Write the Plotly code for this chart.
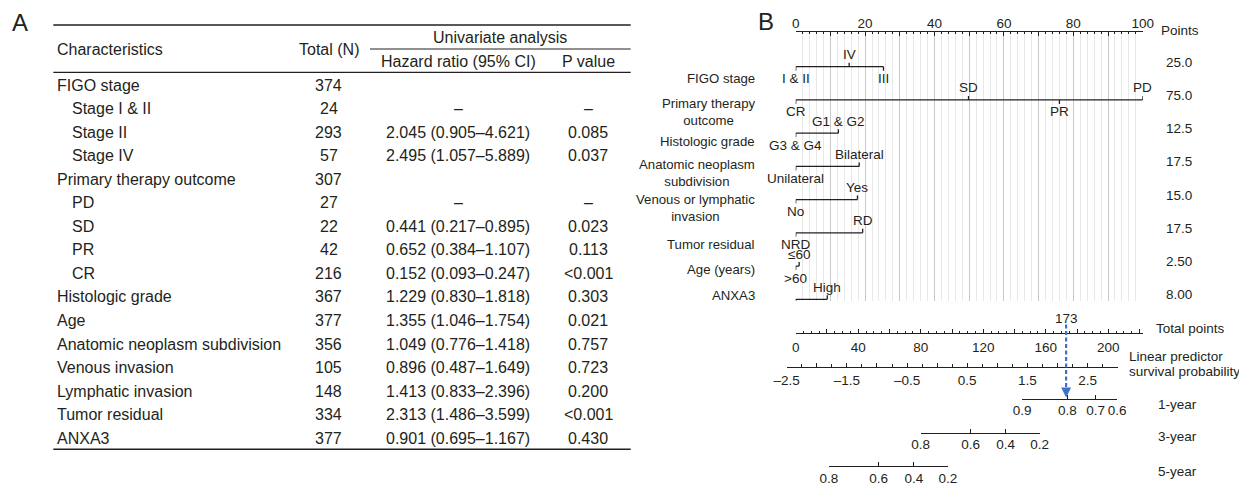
import math
import plotly.graph_objects as go

W, H = 1247, 486          # browser window
OFF = 8                   # default page body margin
WF, HF = W - OFF, H - OFF # figure size
FONT = "Liberation Sans, Arial, Helvetica, sans-serif"
INK = "#231f20"
BLUE = "#3d72c9"

# ---------------- Panel A data (table) ----------------
char_labels = ["FIGO stage", "Stage I & II", "Stage II", "Stage IV",
               "Primary therapy outcome", "PD", "SD", "PR", "CR",
               "Histologic grade", "Age", "Anatomic neoplasm subdivision",
               "Venous invasion", "Lymphatic invasion", "Tumor residual", "ANXA3"]
char_indent = [0, 1, 1, 1, 0, 1, 1, 1, 1, 0, 0, 0, 0, 0, 0, 0]
total_n = [374, 24, 293, 57, 307, 27, 22, 42, 216, 367, 377, 356, 105, 148, 334, 377]
hr_est = [None, "ref", 2.045, 2.495, None, "ref", 0.441, 0.652, 0.152, 1.229, 1.355, 1.049, 0.896, 1.413, 2.313, 0.901]
hr_low = [None, None, 0.905, 1.057, None, None, 0.217, 0.384, 0.093, 0.830, 1.046, 0.776, 0.487, 0.833, 1.486, 0.695]
hr_high = [None, None, 4.621, 5.889, None, None, 0.895, 1.107, 0.247, 1.818, 1.754, 1.418, 1.649, 2.396, 3.599, 1.167]
p_values = [None, "ref", "0.085", "0.037", None, "ref", "0.023", "0.113", "<0.001", "0.303", "0.021", "0.757", "0.723", "0.200", "<0.001", "0.430"]

# ---------------- Panel B data (nomogram) ----------------
nomo_vars = ["FIGO stage", "Primary therapy<br>outcome", "Histologic grade",
             "Anatomic neoplasm<br>subdivision", "Venous or lymphatic<br>invasion",
             "Tumor residual", "Age (years)", "ANXA3"]
nomo_levels = [["I & II", "IV", "III"], ["CR", "SD", "PR", "PD"], ["G3 & G4", "G1 & G2"],
               ["Unilateral", "Bilateral"], ["No", "Yes"], ["NRD", "RD"], [">60", "≤60"], ["Low", "High"]]
nomo_points = [[0, 15.4, 25.3], [0, 49.8, 76.0, 100], [0, 12.3], [0, 18.3], [0, 17.8], [0, 19.3], [0, 1.0], [0, 9.1]]
nomo_above = [[0, 1, 0], [0, 1, 0, 1], [0, 1], [0, 1], [0, 1], [0, 1], [0, 1], [0, 1]]
nomo_right = ["25.0", "75.0", "12.5", "17.5", "15.0", "17.5", "2.50", "8.00"]

points_range = [0, 100]
total_range = [0, 222]
lp_range = [-2.5, 3.0]
example_total = 173

surv_names = ["1-year", "3-year", "5-year"]
surv_ticks = [[0.9, 0.8, 0.7, 0.6], [0.8, 0.6, 0.4, 0.2], [0.8, 0.6, 0.4, 0.2]]
surv_baseline = [0.9747, 0.7459, 0.2595]   # baseline survival at linear predictor 0


def py(p):
    return 1 - (p - OFF) / HF


def pxx(p):
    return (p - OFF) / WF


fig = go.Figure()
ann = []
shapes = []


def text(x, y, s, size=16, xanchor="left", yanchor="middle", xref="paper", yref="paper", color=INK, family=FONT):
    ann.append(dict(x=x, y=y, xref=xref, yref=yref, text=s, showarrow=False,
                    xanchor=xanchor, yanchor=yanchor, font=dict(size=size, color=color, family=family)))


def hline(x0, x1, y, width=1.3):
    shapes.append(dict(type="line", xref="paper", yref="paper", x0=pxx(x0), x1=pxx(x1),
                       y0=py(y), y1=py(y), line=dict(color=INK, width=width)))


# ---------------- Panel A ----------------
text(pxx(19.5), py(22), "A", size=24, xanchor="center")
TL, TR = 53.3, 630.7
hline(TL, TR, 25, 1.5)
hline(370, TR, 49, 1.0)
hline(TL, TR, 72.3, 1.3)
hline(TL, TR, 449.3, 1.5)
text(pxx(54.7), py(50), "Characteristics")
text(pxx(328.7), py(50), "Total (N)", xanchor="center")
text(pxx(500), py(37.7), "Univariate analysis", xanchor="center")
text(pxx(458), py(61), "Hazard ratio (95% CI)", xanchor="center")
text(pxx(588), py(61), "P value", xanchor="center")

ROW0, ROWH = 85.0, 23.55
for i, lab in enumerate(char_labels):
    yy = py(ROW0 + i * ROWH)
    text(pxx(54.7 + 15 * char_indent[i]), yy, lab)
    text(pxx(328.5), yy, str(total_n[i]), xanchor="center")
    if hr_est[i] == "ref":
        hs = "–"
    elif hr_est[i] is None:
        hs = ""
    else:
        hs = f"{hr_est[i]:.3f} ({hr_low[i]:.3f}–{hr_high[i]:.3f})"
    if hs:
        text(pxx(458), yy, hs, xanchor="center")
    ps = "–" if p_values[i] == "ref" else (p_values[i] or "")
    if ps:
        text(pxx(588), yy, ps, xanchor="center")

# ---------------- Panel B ----------------
text(pxx(766), py(21), "B", size=24, xanchor="center")
NS = 13.5
PT_L, PT_R = 795.7, 1142.7
LP_L, LP_R = 786.7, 1117.7
ROW1, ROWSTEP = 66.7, 33.23
GRID_TOP, GRID_BOT = 32.3, 301.0
row_top = 1 + (GRID_TOP - ROW1) / ROWSTEP
row_bot = 1 + (GRID_BOT - ROW1) / ROWSTEP
TICK = 4.0 / ROWSTEP
LOFF = 12.0 / ROWSTEP

axis_common = dict(showline=True, linecolor=INK, linewidth=1.3, tickcolor=INK, tickwidth=1.1,
                   zeroline=False, automargin=False, fixedrange=True,
                   tickfont=dict(size=NS, color=INK, family=FONT))
hidden = dict(visible=False, showgrid=False, zeroline=False, automargin=False, fixedrange=True)

layout_axes = {}
layout_axes["xaxis"] = dict(hidden, domain=[0, 1], range=[0, 1], anchor="y")
layout_axes["yaxis"] = dict(hidden, domain=[0, 1], range=[0, 1], anchor="x")

# Points axis (top) with grid
layout_axes["xaxis2"] = dict(axis_common, domain=[pxx(PT_L), pxx(PT_R)], range=points_range, anchor="y2",
                             side="top", ticks="inside", ticklen=4,
                             tickmode="array", tickvals=list(range(0, 101, 10)),
                             ticktext=[str(v) if v % 20 == 0 else "" for v in range(0, 101, 10)],
                             showgrid=True, gridcolor="#c9c9c9", gridwidth=1.4, ticklabelstandoff=-2,
                             minor=dict(tickmode="linear", tick0=0, dtick=2, ticks="inside", ticklen=2,
                                        tickcolor=INK, showgrid=True, gridcolor="#e8e8e8", gridwidth=1))
layout_axes["yaxis2"] = dict(hidden, domain=[py(GRID_BOT), py(GRID_TOP)], range=[row_bot, row_top], anchor="x2")

# Variable scales
for i, (levels, pts, above) in enumerate(zip(nomo_levels, nomo_points, nomo_above)):
    r = i + 1
    xs = [min(pts), max(pts), None]
    ys = [r, r, None]
    for lv, p, a in zip(levels, pts, above):
        d = -1 if a else 1
        xs += [p, p, None]
        ys += [r, r + d * TICK, None]
        text(p, r + d * LOFF, lv, size=NS, xanchor="center", xref="x2", yref="y2")
    fig.add_trace(go.Scatter(x=xs, y=ys, xaxis="x2", yaxis="y2", mode="lines",
                             line=dict(color=INK, width=1.3), hoverinfo="skip", showlegend=False))
    text(pxx(1164), r - 4.6 / ROWSTEP, nomo_right[i], size=NS, yref="y2")

var_label_offsets = [12.3, 12.1, 8.0, 6.3, 8.8, 11.6, 3.3, -4.3]
for i, lab in enumerate(nomo_vars):
    text(pxx(757), i + 1 + var_label_offsets[i] / ROWSTEP, lab, size=13.2, xanchor="right", yref="y2")

text(pxx(1159), py(30.7), "Points", size=NS)


def band(ypx):
    return [py(ypx), py(ypx) + 0.01]


# Total points axis
TOT_Y = 333.3
layout_axes["xaxis3"] = dict(axis_common, domain=[pxx(PT_L), pxx(PT_R)], range=total_range, anchor="y3",
                             side="bottom", ticks="inside", ticklen=4, tickmode="array",
                             tickvals=list(range(0, 221, 20)),
                             ticktext=[str(v) if v % 40 == 0 else "" for v in range(0, 221, 20)],
                             ticklabelstandoff=1, showgrid=False,
                             minor=dict(tickmode="linear", tick0=0, dtick=5, ticks="inside", ticklen=2.5,
                                        tickcolor=INK, showgrid=False))
layout_axes["yaxis3"] = dict(hidden, domain=band(TOT_Y), range=[0, 1], anchor="x3")
text(pxx(1154), py(328.3), "Total points", size=NS)

# Linear predictor axis
LP_Y = 366.7
lp_vals = [-2.5 + 0.5 * k for k in range(12)]
layout_axes["xaxis4"] = dict(axis_common, domain=[pxx(LP_L), pxx(LP_R)], range=lp_range, anchor="y4",
                             side="bottom", ticks="inside", ticklen=4, tickmode="array",
                             tickvals=lp_vals,
                             ticktext=[(f"{v:.1f}".replace("-", "–") if (round(v * 2) % 2 != 0) else "") for v in lp_vals],
                             ticklabelstandoff=1, showgrid=False,
                             minor=dict(tickmode="linear", tick0=-2.5, dtick=0.25, ticks="inside", ticklen=2.5,
                                        tickcolor=INK, showgrid=False))
layout_axes["yaxis4"] = dict(hidden, domain=band(LP_Y), range=[0, 1], anchor="x4")
text(pxx(1127), py(356), "Linear predictor", size=NS)
text(pxx(1127), py(371), "survival probability", size=NS)


def lp_px(lp):
    return LP_L + (lp - lp_range[0]) / (lp_range[1] - lp_range[0]) * (LP_R - LP_L)


SURV_Y = [399.3, 432.7, 465.7]
SURV_LABEL_Y = [404.3, 436.7, 471.0]
SURV_STANDOFF = [-2, -1, 0]
for k, (name, ticks, s0) in enumerate(zip(surv_names, surv_ticks, surv_baseline)):
    lps = [math.log(math.log(s) / math.log(s0)) for s in ticks]
    ax = f"xaxis{5 + k}"
    ay = f"yaxis{5 + k}"
    layout_axes[ax] = dict(axis_common, domain=[pxx(lp_px(lps[0])), pxx(lp_px(lps[-1]))],
                           range=[lps[0], lps[-1]], anchor=f"y{5 + k}", side="bottom",
                           ticks="inside", ticklen=4, tickmode="array", tickvals=lps,
                           ticktext=[f"{s:.1f}" for s in ticks], ticklabelstandoff=SURV_STANDOFF[k],
                           showgrid=False)
    layout_axes[ay] = dict(hidden, domain=band(SURV_Y[k]), range=[0, 1], anchor=f"x{5 + k}")
    text(pxx(1156), py(SURV_LABEL_Y[k]), name, size=NS)

# invisible anchors so every axis pair becomes a drawn subplot
for k in range(3, 8):
    fig.add_trace(go.Scatter(x=[None], y=[None], xaxis=f"x{k}", yaxis=f"y{k}", mode="markers",
                             hoverinfo="skip", showlegend=False))

# Example patient: dashed arrow from total points to survival
shapes.append(dict(type="line", xref="x3", yref="paper", x0=example_total, x1=example_total,
                   y0=py(324.5), y1=py(391), line=dict(color=BLUE, width=2.2, dash="4px,2.5px")))
ann.append(dict(x=example_total, y=py(397.5), xref="x3", yref="paper", text="", showarrow=True,
                ax=0, ay=-9, arrowhead=2, arrowsize=1, arrowwidth=2, arrowcolor=BLUE, standoff=0))
text(example_total, py(318.5), str(example_total), size=NS, xanchor="center", xref="x3")

fig.update_layout(width=WF, height=HF, margin=dict(l=0, r=0, t=0, b=0), template="none",
                  paper_bgcolor="white", plot_bgcolor="rgba(0,0,0,0)", showlegend=False,
                  annotations=ann, shapes=shapes, **layout_axes)

fig.write_html("out.html")
